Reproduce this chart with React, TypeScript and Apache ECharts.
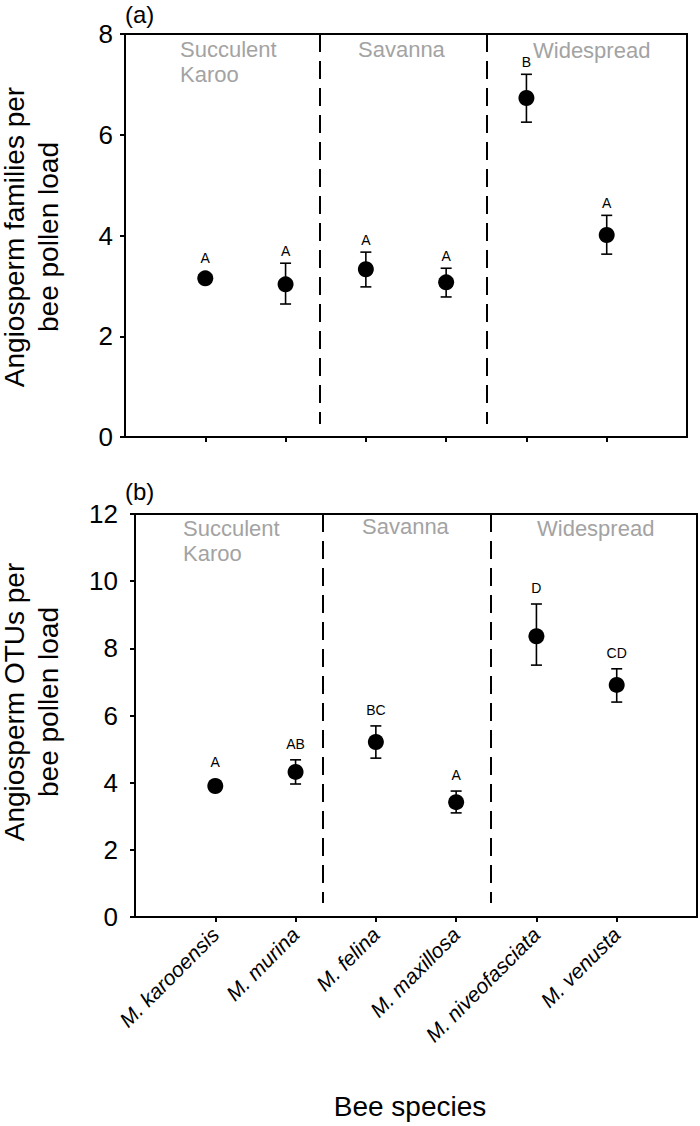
import React, { useEffect, useRef } from "react";
import * as echarts from "echarts";

const species = ["M. karooensis", "M. murina", "M. felina", "M. maxillosa", "M. niveofasciata", "M. venusta"];
const xPositions = [1, 2, 3, 4, 5, 6];

const famMean = [3.15, 3.03, 3.33, 3.07, 6.73, 4.01];
const famLow = [3.08, 2.64, 2.98, 2.78, 6.25, 3.63];
const famHigh = [3.22, 3.45, 3.67, 3.35, 7.2, 4.4];
const famLetters = ["A", "A", "A", "A", "B", "A"];

const otuMean = [3.9, 4.32, 5.21, 3.42, 8.36, 6.91];
const otuLow = [3.82, 3.96, 4.73, 3.1, 7.5, 6.4];
const otuHigh = [3.98, 4.68, 5.69, 3.75, 9.32, 7.39];
const otuLetters = ["A", "AB", "BC", "A", "D", "CD"];

const dividersA = [2.43, 4.51];
const dividersB = [2.34, 4.43];

const FONT = "'Liberation Sans', Arial, sans-serif";

function makeErr(letters: string[], offset: number) {
  return (params: any, api: any) => {
    const x = api.value(0);
    const m = api.value(1);
    const lo = api.value(2);
    const hi = api.value(3);
    const pm = api.coord([x, m]);
    const pl = api.coord([x, lo]);
    const ph = api.coord([x, hi]);
    const cap = 5.5;
    const top = Math.min(ph[1], pm[1] - 8);
    const st = { stroke: "#000", lineWidth: 1.6 };
    return {
      type: "group",
      children: [
        { type: "line", shape: { x1: pm[0], y1: pl[1], x2: pm[0], y2: ph[1] }, style: st },
        { type: "line", shape: { x1: pm[0] - cap, y1: ph[1], x2: pm[0] + cap, y2: ph[1] }, style: st },
        { type: "line", shape: { x1: pm[0] - cap, y1: pl[1], x2: pm[0] + cap, y2: pl[1] }, style: st },
        {
          type: "text",
          x: pm[0],
          y: top - offset,
          style: {
            text: letters[params.dataIndex],
            font: `14px ${FONT}`,
            fill: "#000",
            align: "center",
            verticalAlign: "middle",
          },
        },
      ],
    };
  };
}

export default function App() {
  const ref = useRef<HTMLDivElement>(null);
  useEffect(() => {
    document.body.style.margin = "0";
    const chart = echarts.init(ref.current!, undefined, { renderer: "svg" });
    const yAxisCommon = {
      type: "value",
      min: 0,
      interval: 2,
      splitLine: { show: false },
      axisLine: { show: true, lineStyle: { color: "#000", width: 2 } },
      axisTick: { show: true, inside: false, length: 5, lineStyle: { color: "#000", width: 2 } },
    };
    const yLabel = (margin: number) => ({ color: "#000", fontSize: 26, fontFamily: FONT, margin });
    const xAxisCommon = {
      type: "value",
      min: 0,
      max: 7,
      interval: 1,
      splitLine: { show: false },
      axisLine: { show: true, onZero: false, lineStyle: { color: "#000", width: 2 } },
      axisTick: { show: true, inside: false, length: 5, customValues: xPositions, lineStyle: { color: "#000", width: 2 } },
    };
    const regionStyle = (text: string, x: number, y: number) => ({
      type: "text",
      left: x,
      top: y,
      style: { text, font: `22px ${FONT}`, fill: "#a3a3a3", lineHeight: 25 },
    });
    const markLineFor = (divs: number[], top: number, bottom: number) => ({
      silent: true,
      symbol: ["none", "none"],
      label: { show: false },
      lineStyle: { color: "#000", type: [18, 9], width: 2 },
      data: divs.map((d) => [{ coord: [d, top] }, { coord: [d, bottom] }]),
    });
    const option = {
      animation: false,
      grid: [
        { left: 125, top: 34, width: 562, height: 403, show: true, borderColor: "#000", borderWidth: 2, backgroundColor: "transparent" },
        { left: 135, top: 514, width: 562, height: 403, show: true, borderColor: "#000", borderWidth: 2, backgroundColor: "transparent" },
      ],
      xAxis: [
        { ...xAxisCommon, gridIndex: 0, axisLabel: { show: false } },
        {
          ...xAxisCommon,
          gridIndex: 1,
          axisLabel: {
            show: true,
            customValues: xPositions,
            formatter: (v: number) => species[v - 1] || "",
            rotate: 45,
            fontStyle: "italic",
            fontSize: 21,
            fontFamily: FONT,
            color: "#000",
            margin: 14,
          },
        },
      ],
      yAxis: [
        { ...yAxisCommon, gridIndex: 0, max: 8, axisLabel: yLabel(12) },
        { ...yAxisCommon, gridIndex: 1, max: 12, axisLabel: yLabel(17) },
      ],
      series: [
        {
          type: "custom",
          xAxisIndex: 0,
          yAxisIndex: 0,
          renderItem: makeErr(famLetters, 12),
          data: xPositions.map((x, i) => [x, famMean[i], famLow[i], famHigh[i]]),
          z: 2,
        },
        {
          type: "scatter",
          xAxisIndex: 0,
          yAxisIndex: 0,
          symbol: "circle",
          symbolSize: 16,
          itemStyle: { color: "#000", opacity: 1 },
          data: xPositions.map((x, i) => [x, famMean[i]]),
          z: 3,
          markLine: markLineFor(dividersA, 8, 0.26),
        },
        {
          type: "custom",
          xAxisIndex: 1,
          yAxisIndex: 1,
          renderItem: makeErr(otuLetters, 16),
          data: xPositions.map((x, i) => [x, otuMean[i], otuLow[i], otuHigh[i]]),
          z: 2,
        },
        {
          type: "scatter",
          xAxisIndex: 1,
          yAxisIndex: 1,
          symbol: "circle",
          symbolSize: 16,
          itemStyle: { color: "#000", opacity: 1 },
          data: xPositions.map((x, i) => [x, otuMean[i]]),
          z: 3,
          markLine: markLineFor(dividersB, 12, 0.42),
        },
      ],
      graphic: [
        { type: "text", left: 125, top: 2, style: { text: "(a)", font: `24px ${FONT}`, fill: "#000" } },
        { type: "text", left: 125, top: 479, style: { text: "(b)", font: `24px ${FONT}`, fill: "#000" } },
        regionStyle("Succulent\nKaroo", 180, 37),
        regionStyle("Savanna", 358, 37),
        regionStyle("Widespread", 533, 38),
        regionStyle("Succulent\nKaroo", 183, 516),
        regionStyle("Savanna", 362, 514),
        regionStyle("Widespread", 537, 516),
        {
          type: "text",
          x: 31,
          y: 237,
          rotation: Math.PI / 2,
          style: {
            text: "Angiosperm families per\nbee pollen load",
            font: `28px ${FONT}`,
            fill: "#000",
            align: "center",
            verticalAlign: "middle",
            lineHeight: 34,
          },
        },
        {
          type: "text",
          x: 31,
          y: 702,
          rotation: Math.PI / 2,
          style: {
            text: "Angiosperm OTUs per\nbee pollen load",
            font: `28px ${FONT}`,
            fill: "#000",
            align: "center",
            verticalAlign: "middle",
            lineHeight: 34,
          },
        },
        {
          type: "text",
          x: 410,
          y: 1106,
          style: {
            text: "Bee species",
            font: `28px ${FONT}`,
            fill: "#000",
            align: "center",
            verticalAlign: "middle",
          },
        },
      ],
    };
    chart.setOption(option as any);
    return () => chart.dispose();
  }, []);
  return <div ref={ref} style={{ width: 700, height: 1126 }} />;
}
